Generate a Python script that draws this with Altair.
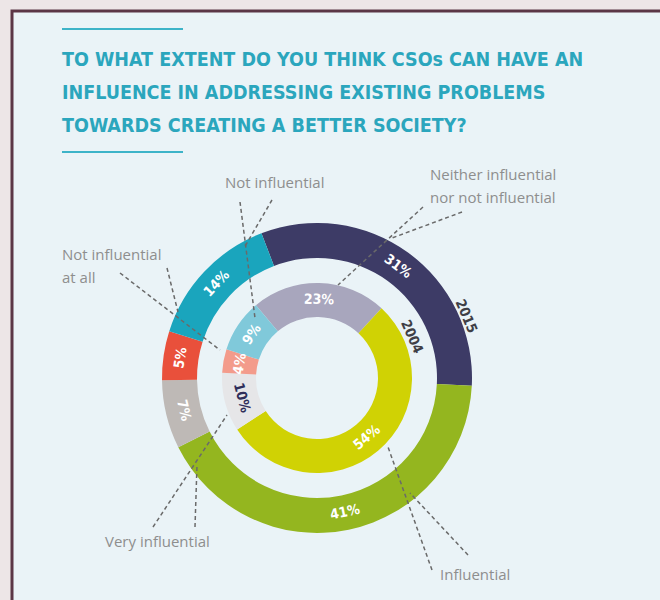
import math
import altair as alt
import pandas as pd

# ---------------- data ----------------
categories = [
    "Neither influential nor not influential",
    "Influential",
    "Very influential",
    "Not influential at all",
    "Not influential",
]
values_2015 = [31, 41, 7, 5, 14]
values_2004 = [23, 54, 10, 4, 9]
years = ["2015", "2004"]
title_lines = [
    "TO WHAT EXTENT DO YOU THINK CSOs CAN HAVE AN",
    "INFLUENCE IN ADDRESSING EXISTING PROBLEMS",
    "TOWARDS CREATING A BETTER SOCIETY?",
]

# ---------------- styles ----------------
colors_2015 = ["#3D3B66", "#94B61F", "#BEB9B6", "#E9503B", "#1AA5BD"]
colors_2004 = ["#A8A6BD", "#D0D204", "#E6E6E8", "#F39B8B", "#80C9DA"]
COND = "DejaVu Sans Condensed, Liberation Sans Narrow, sans-serif"
LABEL_FONT = "Open Sans, Lato, sans-serif"
TEAL = "#2BA6BD"
CX, CY = 317, 378
START_2015 = -21
START_2004 = -40


def ring_frame(values, start):
    total = sum(values)
    rows, cum = [], 0
    for i, (c, v) in enumerate(zip(categories, values)):
        mid = start + (cum + v / 2) / total * 360
        mid = (mid + 180) % 360 - 180
        if mid > 90:
            rot = mid - 180
        elif mid < -90:
            rot = mid + 180
        else:
            rot = mid
        rows.append(dict(idx=i, cat=c, value=v, label=f"{v}%", rot=rot % 360))
        cum += v
    return pd.DataFrame(rows)


def ring(values, start, r_in, r_out, colors, text_color):
    df = ring_frame(values, start)
    a0 = math.radians(start)
    theta = alt.Theta("value:Q", stack=True,
                      scale=alt.Scale(range=[a0, a0 + 2 * math.pi]))
    base = alt.Chart(df).encode(
        theta=theta,
        order=alt.Order("idx:Q"),
        x=alt.value(CX),
        y=alt.value(CY),
    )
    arc = base.mark_arc(radius=r_out, radius2=r_in).encode(
        color=alt.Color("cat:N", scale=alt.Scale(domain=categories, range=colors),
                        legend=None)
    )
    txt = base.mark_text(radius=(r_in + r_out) / 2, font=COND, fontWeight="bold",
                         fontSize=14).encode(
        text="label:N",
        angle=alt.Angle("rot:Q", scale=None),
        color=text_color,
    )
    return [arc, txt]


one = pd.DataFrame({"k": [0]})

background = alt.Chart(one).mark_rect(
    fill="#EAF3F7", stroke="#5B3646", strokeWidth=3
).encode(x=alt.value(12), y=alt.value(11), x2=alt.value(680), y2=alt.value(620))

deco = [
    alt.Chart(one).mark_rule(color="#3DB3C8", strokeWidth=2).encode(
        x=alt.value(62), x2=alt.value(183), y=alt.value(yy))
    for yy in (29, 152)
]

title = alt.Chart(one).mark_text(
    align="left", baseline="alphabetic", font=COND, fontWeight="bold",
    fontSize=19.5, lineHeight=33, color=TEAL
).encode(x=alt.value(62), y=alt.value(66), text=alt.value(title_lines))

outer = ring(values_2015, START_2015, 120, 155, colors_2015, alt.value("white"))
inner = ring(values_2004, START_2004, 61, 95, colors_2004,
             alt.condition(alt.datum.cat == "Very influential",
                           alt.value("#2F2E5A"), alt.value("white")))

year_marks = [
    alt.Chart(one).mark_text(radius=r, theta=math.radians(a), angle=a, font=COND,
                             fontWeight="bold", fontSize=14, color="#3F3F46").encode(
        x=alt.value(CX), y=alt.value(CY), text=alt.value(t))
    for t, r, a in zip(years, (161, 103), (67.5, 66.5))
]

# annotation labels (text, x, y of first line)
annotations = [
    (["Not influential"], 225, 183),
    (["Neither influential", "nor not influential"], 430, 175),
    (["Not influential", "at all"], 62, 255),
    (["Very influential"], 105, 542),
    (["Influential"], 440, 575),
]
label_marks = [
    alt.Chart(one).mark_text(align="left", baseline="middle", font=LABEL_FONT,
                             fontSize=15, lineHeight=23, color="#8E8E8E").encode(
        x=alt.value(x), y=alt.value(y), text=alt.value(t))
    for t, x, y in annotations
]

leaders = [
    (240, 202, 255, 318), (272, 200, 244, 248),
    (423, 207, 338, 285), (462, 212, 392, 238),
    (120, 273, 220, 350), (167, 268, 178, 312),
    (153, 527, 227, 415), (195, 527, 197, 465),
    (432, 570, 388, 447), (468, 555, 410, 493),
]
leader_marks = [
    alt.Chart(one).mark_rule(color="#6A6A6A", strokeWidth=1.5, strokeDash=[4, 3]).encode(
        x=alt.value(x1), y=alt.value(y1), x2=alt.value(x2), y2=alt.value(y2))
    for x1, y1, x2, y2 in leaders
]

chart = alt.layer(
    background, *deco, title, *outer, *inner, *year_marks, *leader_marks, *label_marks
).resolve_scale(
    theta="independent", color="independent"
).properties(
    width=660, height=600, padding=0,
    autosize=alt.AutoSizeParams(type="none"),
).configure(
    background="#EDE6E7"
).configure_view(stroke=None)

chart.save("out.html", embed_options={"renderer": "svg", "actions": False})
